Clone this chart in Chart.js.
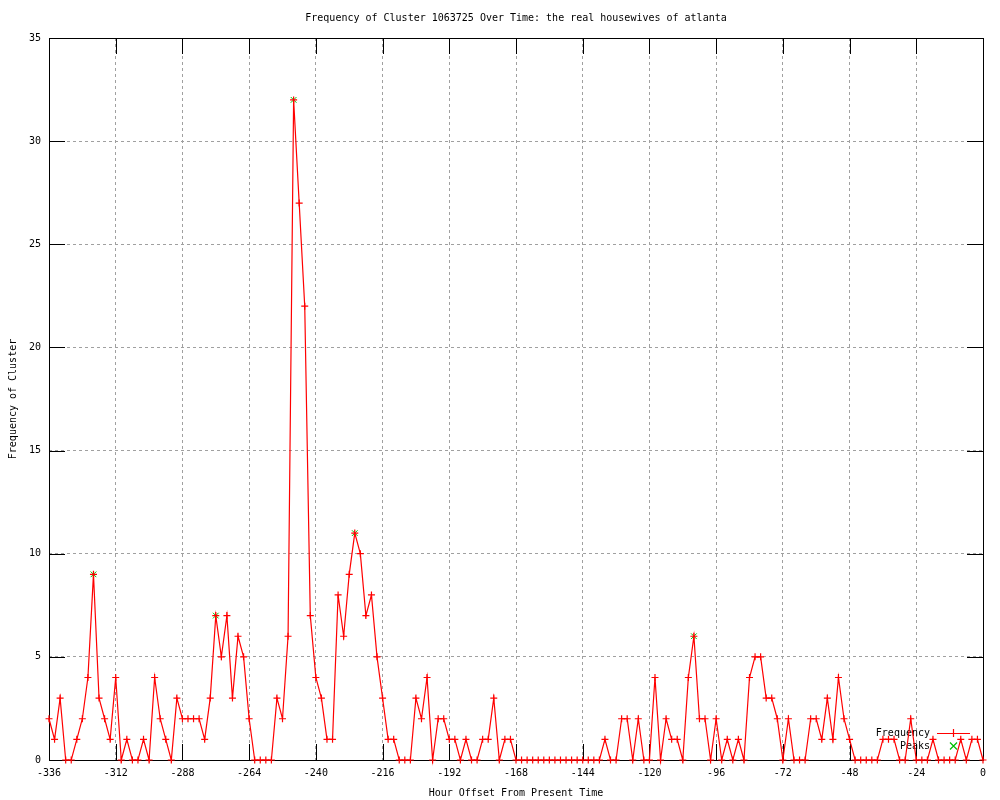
<!DOCTYPE html>
<html>
<head>
<meta charset="utf-8">
<title>Frequency of Cluster 1063725 Over Time</title>
<script src="https://cdn.jsdelivr.net/npm/chart.js@4"></script>
<style>
  html, body { margin: 0; padding: 0; background: #fff; }
  #wrap { width: 1000px; height: 800px; }
</style>
</head>
<body>
<div id="wrap"><canvas id="clusterChart" width="1000" height="800"></canvas></div>
<script>
// hour offsets, one sample every 2 hours
const hours = [
  -336, -334, -332, -330, -328, -326, -324, -322, -320, -318,
  -316, -314, -312, -310, -308, -306, -304, -302, -300, -298,
  -296, -294, -292, -290, -288, -286, -284, -282, -280, -278,
  -276, -274, -272, -270, -268, -266, -264, -262, -260, -258,
  -256, -254, -252, -250, -248, -246, -244, -242, -240, -238,
  -236, -234, -232, -230, -228, -226, -224, -222, -220, -218,
  -216, -214, -212, -210, -208, -206, -204, -202, -200, -198,
  -196, -194, -192, -190, -188, -186, -184, -182, -180, -178,
  -176, -174, -172, -170, -168, -166, -164, -162, -160, -158,
  -156, -154, -152, -150, -148, -146, -144, -142, -140, -138,
  -136, -134, -132, -130, -128, -126, -124, -122, -120, -118,
  -116, -114, -112, -110, -108, -106, -104, -102, -100, -98,
  -96, -94, -92, -90, -88, -86, -84, -82, -80, -78,
  -76, -74, -72, -70, -68, -66, -64, -62, -60, -58,
  -56, -54, -52, -50, -48, -46, -44, -42, -40, -38,
  -36, -34, -32, -30, -28, -26, -24, -22, -20, -18,
  -16, -14, -12, -10, -8, -6, -4, -2, 0
];

const frequency = [
  2, 1, 3, 0, 0, 1, 2, 4, 9, 3,
  2, 1, 4, 0, 1, 0, 0, 1, 0, 4,
  2, 1, 0, 3, 2, 2, 2, 2, 1, 3,
  7, 5, 7, 3, 6, 5, 2, 0, 0, 0,
  0, 3, 2, 6, 32, 27, 22, 7, 4, 3,
  1, 1, 8, 6, 9, 11, 10, 7, 8, 5,
  3, 1, 1, 0, 0, 0, 3, 2, 4, 0,
  2, 2, 1, 1, 0, 1, 0, 0, 1, 1,
  3, 0, 1, 1, 0, 0, 0, 0, 0, 0,
  0, 0, 0, 0, 0, 0, 0, 0, 0, 0,
  1, 0, 0, 2, 2, 0, 2, 0, 0, 4,
  0, 2, 1, 1, 0, 4, 6, 2, 2, 0,
  2, 0, 1, 0, 1, 0, 4, 5, 5, 3,
  3, 2, 0, 2, 0, 0, 0, 2, 2, 1,
  3, 1, 4, 2, 1, 0, 0, 0, 0, 0,
  1, 1, 1, 0, 0, 2, 0, 0, 0, 1,
  0, 0, 0, 0, 1, 0, 1, 1, 0
];

const peakHours = [-320, -276, -248, -226, -104];
const peakValues = [9, 7, 32, 11, 6];

const xTicks = [-336, -312, -288, -264, -240, -216, -192, -168, -144, -120, -96, -72, -48, -24, 0];
const yTicks = [0, 5, 10, 15, 20, 25, 30, 35];

const FONT = "'DejaVu Sans Mono', 'Liberation Mono', monospace";
const RED = '#ff0000';
const GREEN = '#00c000';

// gnuplot style: solid frame, inward ticks on all four sides, title and key
const gnuplotFrame = {
  id: 'gnuplotFrame',
  beforeDatasetsDraw(chart) {
    const { ctx, chartArea: a, scales } = chart;
    const tic = 16;
    ctx.save();
    ctx.strokeStyle = '#000';
    ctx.lineWidth = 1;
    ctx.beginPath();
    xTicks.forEach(v => {
      const x = Math.round(scales.x.getPixelForValue(v)) + 0.5;
      ctx.moveTo(x, a.bottom); ctx.lineTo(x, a.bottom - tic);
      ctx.moveTo(x, a.top); ctx.lineTo(x, a.top + tic);
    });
    yTicks.forEach(v => {
      const y = Math.round(scales.y.getPixelForValue(v)) + 0.5;
      ctx.moveTo(a.left, y); ctx.lineTo(a.left + tic, y);
      ctx.moveTo(a.right, y); ctx.lineTo(a.right - tic, y);
    });
    ctx.stroke();
    ctx.strokeRect(Math.round(a.left) + 0.5, Math.round(a.top) + 0.5,
      Math.round(a.right - a.left), Math.round(a.bottom - a.top));

    // title
    ctx.fillStyle = '#000';
    ctx.font = '10px ' + FONT;
    ctx.textAlign = 'center';
    ctx.textBaseline = 'middle';
    ctx.fillText('Frequency of Cluster 1063725 Over Time: the real housewives of atlanta',
      (a.left + a.right) / 2, 18.5);

    // key
    const kx = a.right - 53, ky = a.bottom - 27;
    ctx.textAlign = 'right';
    ctx.fillText('Frequency', kx, ky);
    ctx.fillText('Peaks', kx, ky + 13);
    ctx.strokeStyle = RED;
    ctx.lineWidth = 1.2;
    ctx.beginPath();
    ctx.moveTo(kx + 7, ky + 0.5); ctx.lineTo(kx + 40, ky + 0.5);
    ctx.moveTo(kx + 23.5, ky - 4); ctx.lineTo(kx + 23.5, ky + 4);
    ctx.stroke();
    ctx.strokeStyle = GREEN;
    ctx.beginPath();
    ctx.moveTo(kx + 20, ky + 9.5); ctx.lineTo(kx + 27, ky + 16.5);
    ctx.moveTo(kx + 27, ky + 9.5); ctx.lineTo(kx + 20, ky + 16.5);
    ctx.stroke();
    ctx.restore();
  }
};

const ctx = document.getElementById('clusterChart').getContext('2d');
new Chart(ctx, {
  type: 'line',
  data: {
    datasets: [
      {
        label: 'Frequency',
        data: hours.map((h, i) => ({ x: h, y: frequency[i] })),
        borderColor: RED,
        borderWidth: 1.2,
        backgroundColor: RED,
        pointStyle: 'cross',
        pointRadius: 3.5,
        pointBorderColor: RED,
        pointBorderWidth: 1.2,
        tension: 0,
        fill: false,
        clip: false
      },
      {
        label: 'Peaks',
        data: peakHours.map((h, i) => ({ x: h, y: peakValues[i] })),
        showLine: false,
        pointStyle: 'crossRot',
        pointRadius: 4,
        pointBorderColor: GREEN,
        pointBorderWidth: 1,
        clip: false
      }
    ]
  },
  options: {
    responsive: false,
    animation: false,
    layout: { padding: { top: 38, right: 17, left: 0, bottom: 0 } },
    plugins: {
      legend: { display: false },
      title: { display: false },
      tooltip: { enabled: false }
    },
    scales: {
      x: {
        type: 'linear',
        min: xTicks[0],
        max: xTicks[xTicks.length - 1],
        afterBuildTicks: s => { s.ticks = xTicks.map(v => ({ value: v })); },
        afterFit: s => { s.height = 40; },
        grid: { color: '#a0a0a0', drawTicks: false },
        border: { display: false, dash: [3, 3] },
        ticks: { color: '#000', font: { family: FONT, size: 10 }, padding: 7, maxRotation: 0, autoSkip: false },
        title: {
          display: true,
          text: 'Hour Offset From Present Time',
          color: '#000',
          font: { family: FONT, size: 10 },
          padding: { top: 0, bottom: 1 }
        }
      },
      y: {
        min: yTicks[0],
        max: yTicks[yTicks.length - 1],
        afterBuildTicks: s => { s.ticks = yTicks.map(v => ({ value: v })); },
        afterFit: s => { s.width = 49; },
        grid: { color: '#a0a0a0', drawTicks: false },
        border: { display: false, dash: [3, 3] },
        ticks: { color: '#000', font: { family: FONT, size: 10 }, padding: 8 },
        title: {
          display: true,
          text: 'Frequency of Cluster',
          color: '#000',
          font: { family: FONT, size: 10 },
          padding: { top: 7, bottom: 0 }
        }
      }
    }
  },
  plugins: [gnuplotFrame]
});
</script>
</body>
</html>
